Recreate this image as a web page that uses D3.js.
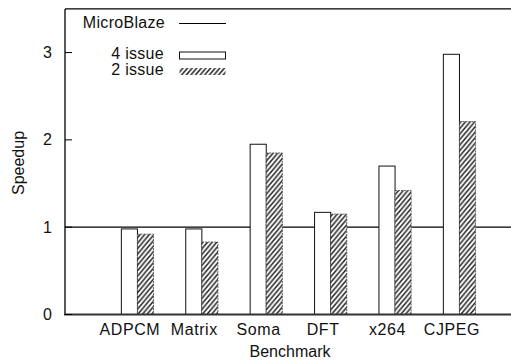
<!DOCTYPE html>
<html><head><meta charset="utf-8">
<script src="https://cdn.jsdelivr.net/npm/d3@7"></script>
<style>
html,body{margin:0;padding:0;background:#fff;}
svg text{font-family:"Liberation Sans",Arial,sans-serif;font-size:16px;fill:#111;}
</style></head>
<body>
<svg id="c" width="511" height="362"></svg>
<script>
const categories = ["ADPCM","Matrix","Soma","DFT","x264","CJPEG"];
const issue4 = [0.98, 0.98, 1.95, 1.17, 1.70, 2.98];
const issue2 = [0.92, 0.83, 1.85, 1.15, 1.42, 2.21];
const baseline = 1;
const yTicks = [0,1,2,3];

const svg = d3.select("#c");
const x = d3.scaleLinear().domain([-1.125, 5.94]).range([65, 520]);
const y = d3.scaleLinear().domain([0, 3.5]).range([314.5, 8.9]);
const bw = 0.25;

const defs = svg.append("defs");
const pat = defs.append("pattern").attr("id","hatch").attr("patternUnits","userSpaceOnUse")
  .attr("width",5).attr("height",5).attr("patternTransform","rotate(-5)");
pat.append("rect").attr("width",5).attr("height",5).attr("fill","#fff");
pat.append("path").attr("d","M-1.25,1.25 l2.5,-2.5 M0,5 l5,-5 M3.75,6.25 l2.5,-2.5")
  .attr("stroke","#111").attr("stroke-width",1.4);

// MicroBlaze baseline
svg.append("line").attr("x1",x(-1.125)).attr("x2",520).attr("y1",y(baseline)).attr("y2",y(baseline))
  .attr("stroke","#000").attr("stroke-width",1.3);

// bars
const g = svg.append("g");
g.selectAll("rect.b4").data(issue4).join("rect").attr("class","b4")
  .attr("x",(d,i)=>x(i-bw)).attr("width",x(bw)-x(0))
  .attr("y",d=>y(d)).attr("height",d=>y(0)-y(d))
  .attr("fill","#fff").attr("stroke","#111").attr("stroke-width",1);
g.selectAll("rect.b2").data(issue2).join("rect").attr("class","b2")
  .attr("x",(d,i)=>x(i)).attr("width",x(bw)-x(0))
  .attr("y",d=>y(d)).attr("height",d=>y(0)-y(d))
  .attr("fill","url(#hatch)").attr("stroke","#444").attr("stroke-width",0.8).attr("stroke-dasharray","2,1");

// axes frame
svg.append("line").attr("x1",65).attr("x2",65).attr("y1",y(3.5)).attr("y2",y(0)).attr("stroke","#000").attr("stroke-width",1.3);
svg.append("line").attr("x1",65).attr("x2",520).attr("y1",y(3.5)).attr("y2",y(3.5)).attr("stroke","#000").attr("stroke-width",1.3);
svg.append("line").attr("x1",64).attr("x2",520).attr("y1",y(0)).attr("y2",y(0)).attr("stroke","#333").attr("stroke-width",2);

// y ticks
const yt = svg.append("g");
yt.selectAll("line").data(yTicks).join("line")
  .attr("x1",65).attr("x2",72).attr("y1",d=>y(d)).attr("y2",d=>y(d)).attr("stroke","#000");
yt.selectAll("text").data(yTicks).join("text")
  .attr("x",52).attr("y",d=>y(d)+5.5).attr("text-anchor","end").text(d=>d);

// x labels
svg.append("g").selectAll("text").data(categories).join("text")
  .attr("x",(d,i)=>x(i-bw/2)+0.5).attr("y",335).attr("text-anchor","middle")
  .attr("letter-spacing","0.6").text(d=>d);

svg.append("text").attr("x",290).attr("y",357).attr("text-anchor","middle").text("Benchmark");
svg.append("text").attr("transform","translate(24,163) rotate(-90)").attr("text-anchor","middle").text("Speedup");

// legend
const lg = svg.append("g");
lg.append("text").attr("x",165).attr("y",28).attr("text-anchor","end").attr("letter-spacing","0.3").text("MicroBlaze");
lg.append("line").attr("x1",179).attr("x2",226).attr("y1",23.5).attr("y2",23.5).attr("stroke","#000").attr("stroke-width",1.2);
lg.append("text").attr("x",164).attr("y",59).attr("text-anchor","end").attr("letter-spacing","0.3").text("4 issue");
lg.append("rect").attr("x",179.5).attr("y",52).attr("width",46).attr("height",7).attr("fill","#fff").attr("stroke","#111");
lg.append("text").attr("x",164).attr("y",75).attr("text-anchor","end").attr("letter-spacing","0.3").text("2 issue");
lg.append("rect").attr("x",179.5).attr("y",68).attr("width",46).attr("height",7).attr("fill","url(#hatch)");
</script>
</body></html>
